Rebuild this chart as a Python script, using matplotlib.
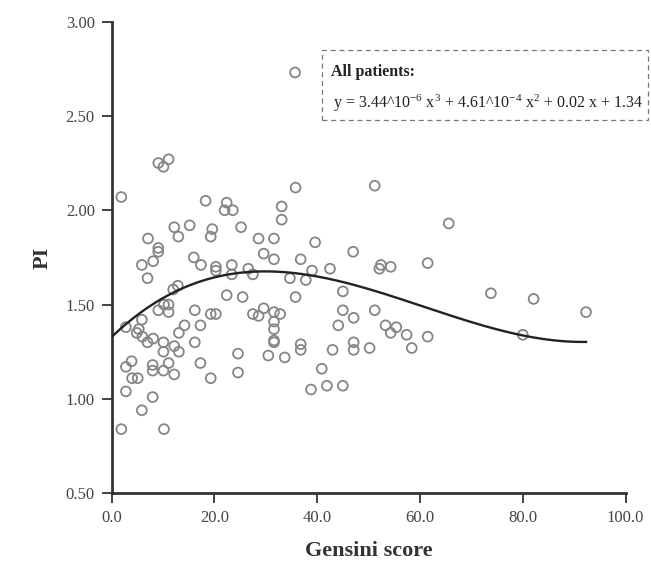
import numpy as np
import matplotlib
matplotlib.use("Agg")
import matplotlib.pyplot as plt
from matplotlib.patches import Rectangle

plt.rcParams["font.family"] = ["Liberation Serif", "DejaVu Serif"]
plt.rcParams["mathtext.fontset"] = "custom"
plt.rcParams["mathtext.rm"] = "Liberation Serif"
plt.rcParams["mathtext.it"] = "Liberation Serif:italic"

# Gensini score vs PI
gensini = [
    9.1, 10.1, 11.1, 1.9, 18.3, 22.4, 22.0, 23.6, 15.2, 12.2,
    13.0, 19.6, 19.3, 25.2, 28.6, 7.1, 9.1, 9.1, 29.6, 16.0,
    5.9, 8.1, 17.4, 20.3, 20.3, 23.4, 23.4, 26.6, 27.5, 7.0,
    12.9, 12.0, 22.4, 25.5, 10.2, 11.1, 9.1, 11.1, 16.2, 19.3,
    20.3, 27.5, 28.6, 29.6, 2.8, 5.9, 14.2, 17.3, 5.3, 4.9,
    6.0, 8.1, 7.0, 13.1, 10.1, 12.2, 16.2, 10.1, 13.1, 24.6,
    30.5, 3.9, 2.8, 8.0, 8.0, 11.1, 10.1, 12.2, 17.3, 4.0,
    5.1, 24.6, 19.3, 2.8, 8.0, 5.9, 1.9, 10.2, 35.8, 51.2,
    33.1, 33.1, 31.6, 39.6, 31.6, 36.8, 47.0, 39.0, 42.5, 52.4,
    52.1, 54.3, 61.5, 34.7, 37.8, 45.0, 35.8, 31.6, 32.8, 31.6,
    31.6, 31.6, 31.6, 33.7, 36.8, 36.8, 45.0, 47.1, 44.1, 51.2,
    53.3, 55.4, 54.3, 57.4, 61.5, 58.4, 43.0, 47.1, 47.1, 50.2,
    40.9, 38.8, 41.9, 45.0, 65.6, 73.8, 82.1, 92.3, 80.0, 35.7,
]
pi_values = [
    2.25, 2.23, 2.27, 2.07, 2.05, 2.04, 2.00, 2.00, 1.92, 1.91,
    1.86, 1.90, 1.86, 1.91, 1.85, 1.85, 1.80, 1.78, 1.77, 1.75,
    1.71, 1.73, 1.71, 1.70, 1.68, 1.71, 1.66, 1.69, 1.66, 1.64,
    1.60, 1.58, 1.55, 1.54, 1.50, 1.50, 1.47, 1.46, 1.47, 1.45,
    1.45, 1.45, 1.44, 1.48, 1.38, 1.42, 1.39, 1.39, 1.37, 1.35,
    1.33, 1.32, 1.30, 1.35, 1.30, 1.28, 1.30, 1.25, 1.25, 1.24,
    1.23, 1.20, 1.17, 1.18, 1.15, 1.19, 1.15, 1.13, 1.19, 1.11,
    1.11, 1.14, 1.11, 1.04, 1.01, 0.94, 0.84, 0.84, 2.12, 2.13,
    2.02, 1.95, 1.85, 1.83, 1.74, 1.74, 1.78, 1.68, 1.69, 1.71,
    1.69, 1.70, 1.72, 1.64, 1.63, 1.57, 1.54, 1.46, 1.45, 1.41,
    1.37, 1.31, 1.30, 1.22, 1.29, 1.26, 1.47, 1.43, 1.39, 1.47,
    1.39, 1.38, 1.35, 1.34, 1.33, 1.27, 1.26, 1.30, 1.26, 1.27,
    1.16, 1.05, 1.07, 1.07, 1.93, 1.56, 1.53, 1.46, 1.34, 2.73,
]

# points along the drawn cubic regression curve
fit_x = [0.0, 2.3, 5.5, 8.8, 12.0, 15.0, 22.8, 28.0, 40.0, 48.0, 54.0, 62.0, 71.7, 80.0, 85.0, 92.3]
fit_y = [1.32, 1.39, 1.45, 1.51, 1.57, 1.61, 1.67, 1.67, 1.64, 1.60, 1.54, 1.47, 1.40, 1.35, 1.32, 1.29]

x_ticks = [0, 20, 40, 60, 80, 100]
y_ticks = [0.5, 1.0, 1.5, 2.0, 2.5, 3.0]

fig = plt.figure(figsize=(6.51, 5.63), dpi=100)
ax = fig.add_axes([0.1713, 0.1238, 0.7897, 0.838])

ax.scatter(gensini, pi_values, s=50, facecolors="none", edgecolors="#858585",
           linewidths=1.3, zorder=2)

coef = np.polyfit(fit_x, fit_y, 3)
xs = np.linspace(min(fit_x), max(fit_x), 200)
ax.plot(xs, np.polyval(coef, xs), color="#222222", lw=1.7, zorder=3)

ax.set_xlim(0, 100)
ax.set_ylim(0.5, 3.0)
ax.set_xticks(x_ticks)
ax.set_yticks(y_ticks)
ax.set_xticklabels([f"{t:.1f}" for t in x_ticks])
ax.set_yticklabels([f"{t:.2f}" for t in y_ticks])
ax.tick_params(direction="out", length=7, width=1.3, colors="#333333",
               labelsize=12, labelcolor="#444444", pad=5)

for side in ["top", "right"]:
    ax.spines[side].set_visible(False)
for side in ["left", "bottom"]:
    ax.spines[side].set_linewidth(2)
    ax.spines[side].set_color("#333333")

ax.set_xlabel("Gensini score", fontsize=16, fontweight="bold", color="#333333", labelpad=11)
ax.set_ylabel("PI", fontsize=16, fontweight="bold", color="#333333", labelpad=9)

# dashed box holding the regression equation
box = Rectangle((0.494, 0.787), 0.501, 0.124, transform=fig.transFigure,
                fill=False, edgecolor="#777777", lw=0.9, ls=(0, (4, 3)))
fig.patches.append(box)
fig.text(0.508, 0.872, "All patients:", fontsize=11.5, fontweight="bold",
         color="#222222", va="center", ha="left")
fig.text(0.511, 0.817,
         r"y = 3.44^10$^{-6}$ x$^{3}$ + 4.61^10$^{-4}$ x$^{2}$ + 0.02 x + 1.34",
         fontsize=11.5, color="#222222", va="center", ha="left")

fig.savefig("out.png", dpi=100)
